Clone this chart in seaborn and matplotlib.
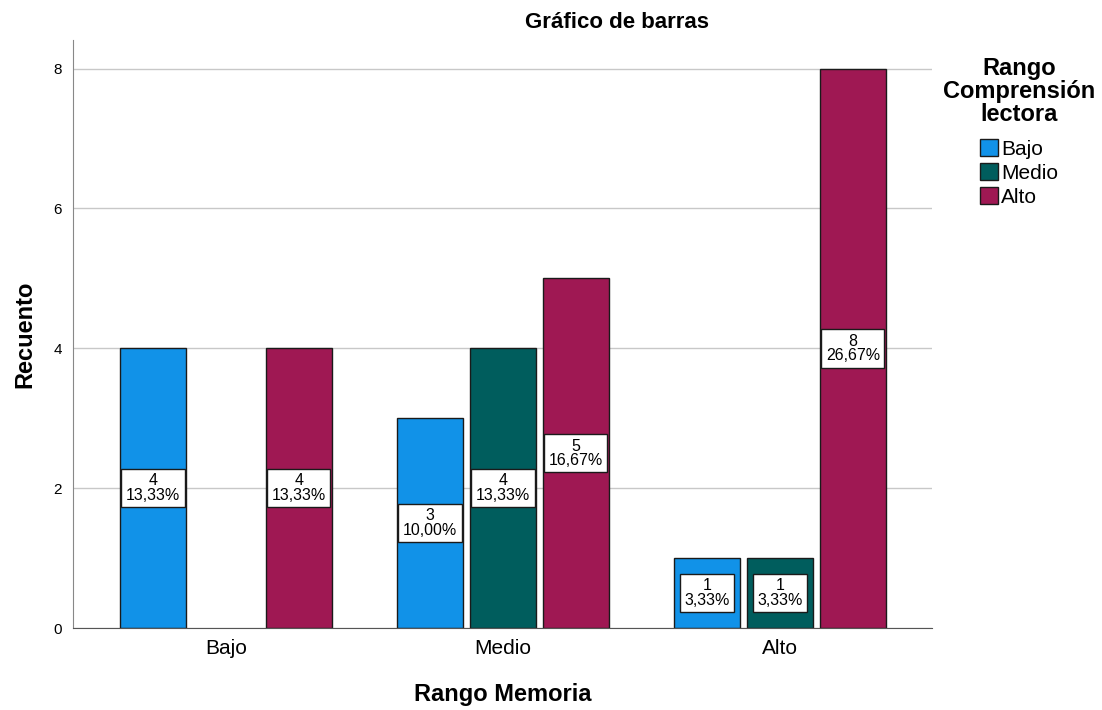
import pandas as pd
import matplotlib.pyplot as plt
import seaborn as sns

# Datos (conteos)
memoria = ["Bajo", "Bajo", "Medio", "Medio", "Medio", "Alto", "Alto", "Alto"]
comprension = ["Bajo", "Alto", "Bajo", "Medio", "Alto", "Bajo", "Medio", "Alto"]
recuento = [4, 4, 3, 4, 5, 1, 1, 8]

orden = ["Bajo", "Medio", "Alto"]
colores = ["#1192e8", "#005d5d", "#9f1853"]

df = pd.DataFrame({"Rango Memoria": memoria,
                   "Comprension": comprension,
                   "Recuento": recuento})
total = df["Recuento"].sum()

sns.set_style("white")
plt.rcParams['font.family'] = ['Liberation Sans', 'DejaVu Sans']
plt.rcParams['text.color'] = 'black'
plt.rcParams['axes.labelcolor'] = 'black'
plt.rcParams['xtick.color'] = 'black'
plt.rcParams['ytick.color'] = 'black'

fig = plt.figure(figsize=(11.02, 7.10), dpi=100)
ax = fig.add_axes([73 / 1102, 1 - 628 / 710, (932 - 73) / 1102, (628 - 40) / 710])

sns.barplot(data=df, x="Rango Memoria", y="Recuento", hue="Comprension",
            order=orden, hue_order=orden, palette=colores,
            width=0.79, gap=0.1, edgecolor="#1a1a1a", linewidth=1.0,
            saturation=1, ax=ax, legend=True)

# Etiquetas dentro de las barras
for cont in ax.containers:
    for barra in cont:
        h = barra.get_height()
        if pd.isna(h) or h <= 0:
            continue
        xc = barra.get_x() + barra.get_width() / 2
        pct = f"{h / total * 100:.2f}".replace(".", ",")
        ax.text(xc, h / 2, f"{int(h)}\n{pct}%", ha="center", va="center",
                fontsize=11.5, linespacing=0.95, zorder=5,
                bbox=dict(boxstyle="square,pad=0.28", fc="white", ec="#1a1a1a", lw=1.0))

ax.set_xlim(-0.552, 2.549)
ax.set_ylim(0, 8.41)
ax.set_yticks([0, 2, 4, 6, 8])
ax.yaxis.grid(True, color="#c8c8c8", linewidth=1.0)
ax.set_axisbelow(True)
ax.tick_params(axis="both", length=0)
ax.tick_params(axis="x", labelsize=15, pad=8)
ax.tick_params(axis="y", labelsize=11, pad=8)
for lado in ["top", "right"]:
    ax.spines[lado].set_visible(False)
ax.spines["left"].set_color("#888888")
ax.spines["bottom"].set_color("#555555")

ax.set_xlabel("Rango Memoria", fontsize=17, fontweight="bold", labelpad=18)
ax.set_ylabel("Recuento", fontsize=17, fontweight="bold", labelpad=12)
fig.text(617 / 1102, 1 - 22 / 710, "Gráfico de barras", fontsize=16,
         fontweight="bold", ha="center", va="center")

handles, labels = ax.get_legend_handles_labels()
leg = ax.legend(handles, labels, title="Rango\nComprensión\nlectora",
                loc="upper center", bbox_to_anchor=(1019 / 1102, 1 - 47 / 710),
                bbox_transform=fig.transFigure, frameon=False, fontsize=15,
                title_fontproperties={"weight": "bold", "size": 17},
                alignment="center",
                handlelength=0.9, handleheight=0.9, handletextpad=0.15,
                labelspacing=0.2, borderpad=0)
leg.get_title().set_multialignment("center")
leg.get_title().set_linespacing(1.0)
leg._legend_box.sep = 9

plt.savefig("out.png", dpi=100)
plt.close()
